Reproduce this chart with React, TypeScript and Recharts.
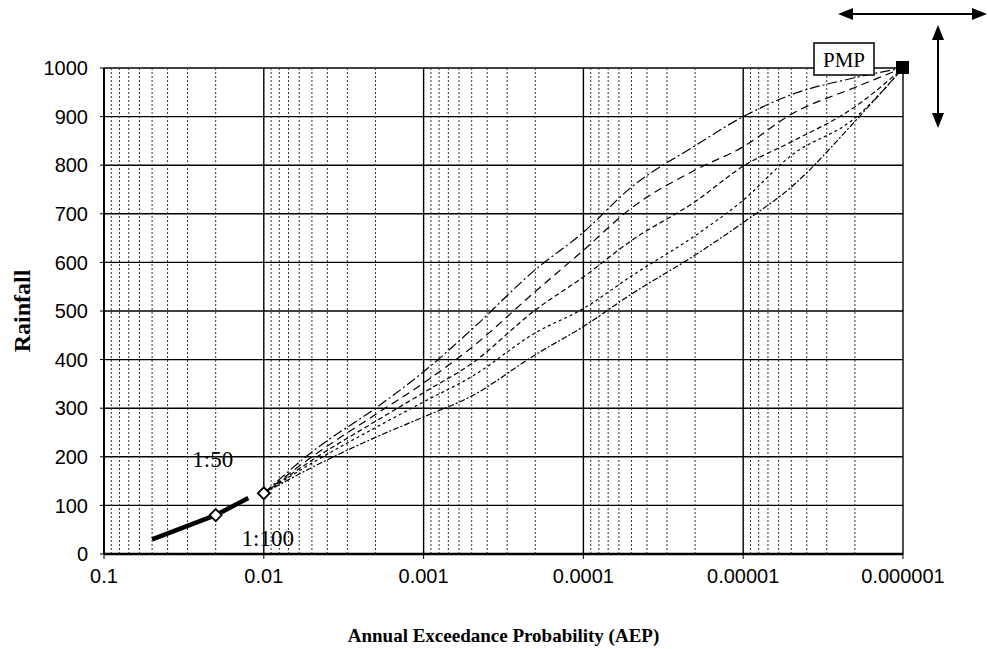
import React from 'react'
import {
    ComposedChart,
    Line,
    Scatter,
    XAxis,
    YAxis,
    CartesianGrid,
    ReferenceLine
} from 'recharts'

// AEP positions (x) shared by all the design-rainfall curves
const aepPoints = [0.01, 0.005, 0.002, 0.001, 0.0005, 0.0002, 0.0001, 0.00005, 0.00002, 0.00001, 0.000005, 0.000002, 0.000001]
const curveA = [125, 210, 300, 375, 462, 585, 662, 755, 840, 900, 945, 980, 1000]
const curveB = [125, 200, 287, 352, 425, 540, 625, 712, 790, 838, 905, 960, 1000]
const curveC = [125, 193, 273, 332, 392, 502, 570, 645, 725, 798, 848, 920, 1000]
const curveD = [125, 187, 260, 313, 365, 455, 505, 572, 655, 728, 820, 897, 1000]
const curveE = [125, 178, 240, 282, 325, 410, 468, 535, 615, 682, 755, 890, 1000]

// observed / fitted frequency range (thick line)
const fittedAep = [0.05, 0.02, 0.0125]
const fittedRain = [30, 80, 115]

// marked design events
const eventAep = [0.02, 0.01]
const eventRain = [80, 125]
const eventNames = ['1:50', '1:100']

const pmpAep = 0.000001
const pmpRain = 1000
const pmpName = 'PMP'

const xTicks = [0.1, 0.01, 0.001, 0.0001, 0.00001, 0.000001]
const xTickLabels = ['0.1', '0.01', '0.001', '0.0001', '0.00001', '0.000001']
const yTicks = [0, 100, 200, 300, 400, 500, 600, 700, 800, 900, 1000]
const minorSteps = [2, 3, 4, 5, 6, 7, 8, 9]

const toRows = (xs: number[], ys: number[]) => xs.map((p, i) => ({ p, v: ys[i] }))

const curves = [
    { key: 'A', rows: toRows(aepPoints, curveA), dash: '10 3 2 3' },
    { key: 'B', rows: toRows(aepPoints, curveB), dash: '8 5' },
    { key: 'C', rows: toRows(aepPoints, curveC), dash: '5 3' },
    { key: 'D', rows: toRows(aepPoints, curveD), dash: '3 3' },
    { key: 'E', rows: toRows(aepPoints, curveE), dash: '6 2 2 2' }
]
const fittedRows = toRows(fittedAep, fittedRain)
const eventRows = eventAep.map((p, i) => ({ p, v: eventRain[i], name: eventNames[i] }))
const pmpRows = [{ p: pmpAep, v: pmpRain }]

// minor gridlines 2..9 within each decade
const minorLines: number[] = []
xTicks.slice(1).forEach((d) => minorSteps.forEach((k) => minorLines.push(k * d)))

const serif = '"Liberation Serif", "Times New Roman", serif'
const sans = '"Liberation Sans", Arial, sans-serif'

const Diamond = (props: any) => {
    const { cx, cy, payload } = props
    const r = 6
    const above = payload.name === '1:50'
    return (
        <g>
            <polygon
                points={`${cx},${cy - r} ${cx + r},${cy} ${cx},${cy + r} ${cx - r},${cy}`}
                fill="#fff"
                stroke="#000"
                strokeWidth={1.8}
            />
            <text
                x={above ? cx - 3 : cx + 4}
                y={above ? cy - 48 : cy + 53}
                textAnchor="middle"
                fontFamily={serif}
                fontSize={23}
                fill="#000"
            >
                {payload.name}
            </text>
        </g>
    )
}

const PmpMarker = (props: any) => {
    const { cx, cy } = props
    return (
        <g>
            <rect x={cx - 89} y={cy - 25} width={60} height={32} fill="#fff" stroke="#000" strokeWidth={1.5} />
            <text x={cx - 59} y={cy - 1} textAnchor="middle" fontFamily={serif} fontSize={21} fill="#000">
                {pmpName}
            </text>
            <rect x={cx - 7} y={cy - 7} width={13} height={13} fill="#000" />
        </g>
    )
}

const YTitle = (props: any) => {
    const { viewBox } = props
    const cx = viewBox.x + 22
    const cy = viewBox.y + viewBox.height / 2
    return (
        <text
            x={cx}
            y={cy}
            transform={`rotate(-90, ${cx}, ${cy})`}
            textAnchor="middle"
            dominantBaseline="central"
            fontFamily={serif}
            fontWeight="bold"
            fontSize={24}
            fill="#000"
        >
            Rainfall
        </text>
    )
}

const XTitle = (props: any) => {
    const { viewBox } = props
    return (
        <text
            x={viewBox.x + viewBox.width / 2}
            y={viewBox.y + 88}
            textAnchor="middle"
            fontFamily={serif}
            fontWeight="bold"
            fontSize={19}
            fill="#000"
        >
            Annual Exceedance Probability (AEP)
        </text>
    )
}

const App = () => {
    return (
        <div style={{ position: 'relative', width: 988, height: 649, background: '#fff' }}>
            <style>{'body{margin:0}'}</style>
            <ComposedChart width={988} height={649} margin={{ top: 68, right: 85, left: 0, bottom: 0 }}>
                <CartesianGrid stroke="#000" strokeWidth={1.4} />
                {minorLines.map((m) => (
                    <ReferenceLine key={m} x={m} stroke="#333" strokeWidth={1} strokeDasharray="2 2" />
                ))}
                <XAxis
                    dataKey="p"
                    type="number"
                    scale="log"
                    domain={[0.000001, 0.1]}
                    reversed
                    ticks={xTicks}
                    tickFormatter={(_v: number, i: number) => xTickLabels[i]}
                    height={95}
                    tickSize={5}
                    tickMargin={10}
                    stroke="#000"
                    axisLine={{ stroke: '#000', strokeWidth: 2.5 }}
                    tick={{ fill: '#000', fontSize: 20, fontFamily: sans }}
                    label={<XTitle />}
                />
                <YAxis
                    dataKey="v"
                    type="number"
                    domain={[0, 1000]}
                    ticks={yTicks}
                    width={104}
                    tickSize={4}
                    tickMargin={12}
                    stroke="#000"
                    axisLine={{ stroke: '#000', strokeWidth: 2 }}
                    tick={{ fill: '#000', fontSize: 20, fontFamily: sans }}
                    label={<YTitle />}
                />
                {curves.map((c) => (
                    <Line
                        key={c.key}
                        data={c.rows}
                        dataKey="v"
                        type="monotone"
                        stroke="#000"
                        strokeWidth={1.2}
                        strokeDasharray={c.dash}
                        dot={false}
                        activeDot={false}
                        isAnimationActive={false}
                    />
                ))}
                <Line
                    data={fittedRows}
                    dataKey="v"
                    type="linear"
                    stroke="#000"
                    strokeWidth={4.5}
                    dot={false}
                    activeDot={false}
                    isAnimationActive={false}
                />
                <Scatter data={eventRows} dataKey="v" shape={<Diamond />} isAnimationActive={false} />
                <Scatter data={pmpRows} dataKey="v" shape={<PmpMarker />} isAnimationActive={false} />
            </ComposedChart>
            {/* direction arrows, top right */}
            <svg width={988} height={649} style={{ position: 'absolute', left: 0, top: 0, pointerEvents: 'none' }}>
                <line x1={850} y1={14} x2={975} y2={14} stroke="#000" strokeWidth={2} />
                <polygon points="838,14 853,8 853,20" fill="#000" />
                <polygon points="987,14 972,8 972,20" fill="#000" />
                <line x1={938} y1={37} x2={938} y2={116} stroke="#000" strokeWidth={2} />
                <polygon points="938,25 932,40 944,40" fill="#000" />
                <polygon points="938,128 932,113 944,113" fill="#000" />
            </svg>
        </div>
    )
}

export default App
